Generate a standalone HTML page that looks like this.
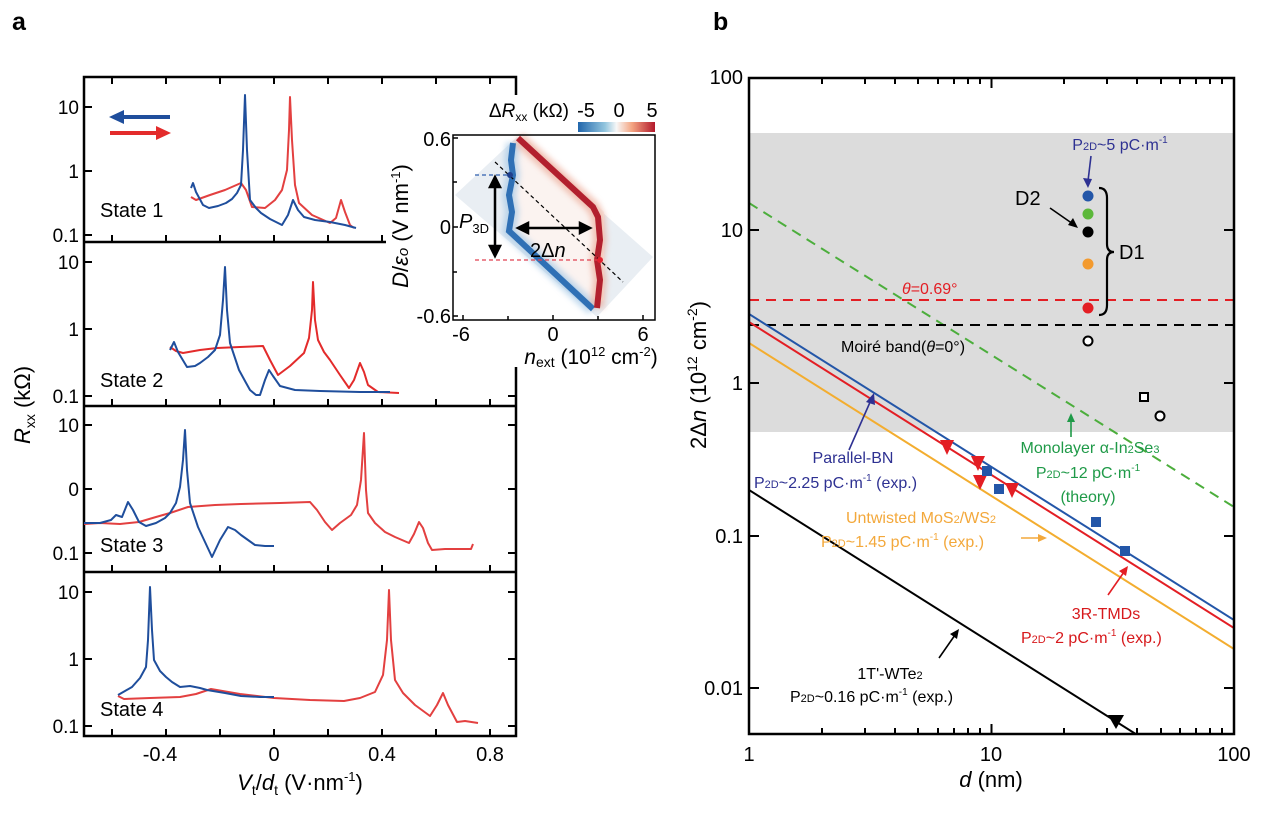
<!DOCTYPE html>
<html><head><meta charset="utf-8"><style>
html,body{margin:0;padding:0;background:#fff;}
svg{display:block;font-family:"Liberation Sans",Arial,sans-serif;}
</style></head><body>
<svg width="1270" height="817" viewBox="0 0 1270 817" xmlns="http://www.w3.org/2000/svg">
<defs>
<linearGradient id="cb" x1="0" x2="1" y1="0" y2="0">
<stop offset="0" stop-color="#2166ac"/><stop offset="0.35" stop-color="#92c5de"/><stop offset="0.5" stop-color="#f7f7f7"/><stop offset="0.7" stop-color="#f4a582"/><stop offset="1" stop-color="#b2182b"/></linearGradient>
<clipPath id="cpb"><rect x="749" y="78" width="485" height="656"/></clipPath>
<filter id="bl" x="-20%" y="-20%" width="140%" height="140%"><feGaussianBlur stdDeviation="3"/></filter>
</defs>

<text x="12" y="30" font-size="25" font-weight="bold">a</text>
<text x="713" y="30" font-size="25" font-weight="bold">b</text>

<!-- ================= PANEL A ================= -->
<g stroke="#000" stroke-width="2.5" fill="none">
<rect x="84" y="77" width="432" height="659"/>
<line x1="84" y1="242" x2="516" y2="242"/>
<line x1="84" y1="406" x2="516" y2="406"/>
<line x1="84" y1="572" x2="516" y2="572"/>
</g>
<g stroke="#000" stroke-width="2">
<path d="M112 77v7M166 77v7M220 77v7M274 77v7M328 77v7M382 77v7M436 77v7M490 77v7"/>
<path d="M112 242v-7M166 242v-7M220 242v-7M274 242v-7M328 242v-7M382 242v-7M436 242v-7M490 242v-7"/>
<path d="M112 406v-7M166 406v-7M220 406v-7M274 406v-7M328 406v-7M382 406v-7M436 406v-7M490 406v-7"/>
<path d="M112 572v-7M166 572v-7M220 572v-7M274 572v-7M328 572v-7M382 572v-7M436 572v-7M490 572v-7"/>
<path d="M112 736v-7M166 736v-7M220 736v-7M274 736v-7M328 736v-7M382 736v-7M436 736v-7M490 736v-7"/>
<path d="M84 107h8M84 171h8M84 235h8M84 262h8M84 329h8M84 396h8M84 425h8M84 489h8M84 553h8M84 592h8M84 659h8M84 726h8"/>
<path d="M516 107h-8M516 171h-8M516 235h-8M516 262h-8M516 329h-8M516 396h-8M516 425h-8M516 489h-8M516 553h-8M516 592h-8M516 659h-8M516 726h-8"/>
</g>
<g font-size="19" text-anchor="end">
<text x="79" y="114">10</text><text x="79" y="178">1</text><text x="79" y="242">0.1</text>
<text x="79" y="269">10</text><text x="79" y="336">1</text><text x="79" y="403">0.1</text>
<text x="79" y="432">10</text><text x="79" y="496">0</text><text x="79" y="560">0.1</text>
<text x="79" y="599">10</text><text x="79" y="666">1</text><text x="79" y="733">0.1</text>
</g>
<g font-size="20" text-anchor="middle">
<text x="160" y="761">-0.4</text><text x="274" y="761">0</text><text x="382" y="761">0.4</text><text x="490" y="761">0.8</text>
</g>
<text x="300" y="790" font-size="22" text-anchor="middle"><tspan font-style="italic">V</tspan><tspan font-size="14" dy="5">t</tspan><tspan dy="-5">/</tspan><tspan font-style="italic">d</tspan><tspan font-size="14" dy="5">t</tspan><tspan dy="-5"> (V·nm</tspan><tspan font-size="13" dy="-9">-1</tspan><tspan dy="9">)</tspan></text>
<text transform="translate(30,405) rotate(-90)" font-size="22" text-anchor="middle"><tspan font-style="italic">R</tspan><tspan font-size="14" dy="5">xx</tspan><tspan dy="-5"> (kΩ)</tspan></text>

<g font-size="20">
<text x="100" y="217">State 1</text>
<text x="100" y="387">State 2</text>
<text x="100" y="552">State 3</text>
<text x="100" y="716">State 4</text>
</g>
<g stroke-width="4">
<line x1="120" y1="117" x2="170" y2="117" stroke="#1f4e9c"/>
<polygon points="109,117 124,110 124,124" fill="#1f4e9c"/>
<line x1="110" y1="133" x2="160" y2="133" stroke="#e32b2b"/>
<polygon points="171,133 156,126 156,140" fill="#e32b2b"/>
</g>

<g fill="none" stroke-width="2" stroke-linejoin="round">
<polyline stroke="#e34040" points="191,197 196,200 210,195 225,190 241,183 246,190 252,207 265,208 275,200 282,190 287,170 289,130 290,97 292,140 295,185 299,203 312,215 330,223 336,218 341,200 345,212 350,225 354,228"/>
<polyline stroke="#1f4e9c" points="191,188 193,183 196,192 203,205 209,208 218,206 226,203 232,199 237,193 241,185 243,150 245,95 247,150 250,200 256,208 261,213 270,219 282,225 288,215 293,200 298,210 304,217 315,220 330,222 345,225 356,228"/>
<polyline stroke="#e32b2b" points="170,347 176,351 183,353 200,350 217,348 240,347 263,346 270,360 278,375 290,366 304,353 309,338 312,310 313,282 315,320 318,340 324,352 330,360 340,375 349,388 354,380 360,363 364,372 368,385 378,392 399,393"/>
<polyline stroke="#1f4e9c" points="170,350 174,342 178,352 187,367 195,366 200,363 208,357 215,350 220,335 223,300 225,267 227,310 230,343 235,358 239,370 245,381 250,390 256,395 260,395 265,380 269,370 273,376 280,386 295,390 320,391 360,392 390,392"/>
<polyline stroke="#e34040" points="84,524 100,523 120,524 139,522 156,517 170,513 188,507 215,505 241,504 280,503 310,502 317,510 325,522 332,530 340,523 351,515 357,505 361,480 364,433 366,490 368,513 375,523 385,532 395,537 409,543 414,534 419,522 423,528 428,543 432,550 445,549 471,549 473,544"/>
<polyline stroke="#1f4e9c" points="84,523 100,523 111,520 116,515 122,517 128,502 133,510 139,522 146,526 156,523 165,518 170,513 176,503 180,487 183,460 185,430 187,470 190,503 198,527 205,542 212,557 220,540 228,527 235,530 241,535 248,540 255,545 265,546 274,546"/>
<polyline stroke="#e34040" points="118,696 124,699 150,698 180,697 196,694 211,689 240,694 274,698 310,700 344,701 360,698 375,692 383,675 387,640 389,590 391,640 395,680 403,693 415,705 430,716 437,705 443,693 448,705 457,722 465,721 478,723"/>
<polyline stroke="#1f4e9c" points="118,695 125,691 132,687 140,678 146,667 148,640 150,587 152,630 154,660 160,671 166,677 172,682 180,687 190,686 200,688 207,690 225,693 241,696 260,697 274,697"/>
</g>

<!-- inset -->
<rect x="386" y="95" width="285" height="272" fill="#fff"/>
<polygon points="455,195 517,137 653,257 597,317" fill="#e9eef3"/>
<polygon points="517,142 530,142 604,212 604,300 596,306 512,228" fill="#fbf3f0"/>
<polyline points="513,143 511,160 513,175 509,195 512,212 509,231 593,309" fill="none" stroke="#9cc3e4" stroke-width="14" opacity="0.6" filter="url(#bl)"/>
<polyline points="518,138 593,207 598,217 600,240 597,260 600,280 597,308" fill="none" stroke="#eaa38e" stroke-width="14" opacity="0.6" filter="url(#bl)"/>
<polyline points="513,143 511,160 513,175 509,195 512,212 509,231 593,309" fill="none" stroke="#2f70b5" stroke-width="6"/>
<polyline points="518,138 593,207 598,217 600,240 597,260 600,280 597,308" fill="none" stroke="#b2202e" stroke-width="6"/>
<line x1="495" y1="162" x2="623" y2="282" stroke="#000" stroke-width="1.2" stroke-dasharray="4,3"/>
<line x1="475" y1="175" x2="510" y2="175" stroke="#2f5fae" stroke-width="1.2" stroke-dasharray="4,3"/>
<line x1="475" y1="260" x2="600" y2="260" stroke="#e04050" stroke-width="1.2" stroke-dasharray="4,3"/>
<circle cx="510" cy="175" r="3" fill="#1f3f8c"/>
<circle cx="600" cy="260" r="3" fill="#e3202e"/>
<rect x="453" y="135" width="202" height="185" fill="none" stroke="#000" stroke-width="1.5"/>
<g stroke="#000" stroke-width="1.5">
<path d="M463 320v-5M508 320v-4M553 320v-5M598 320v-4M643 320v-5"/>
<path d="M453 138h5M453 182h4M453 227h5M453 272h4M453 316h5"/>
</g>
<g stroke="#000" stroke-width="2.5" fill="#000">
<line x1="495" y1="184" x2="495" y2="249"/>
<polygon points="495,177 490,187 500,187"/><polygon points="495,256 490,246 500,246"/>
<line x1="525" y1="228" x2="583" y2="228"/>
<polygon points="518,228 528,223 528,233"/><polygon points="590,228 580,223 580,233"/>
</g>
<text x="459" y="228" font-size="20" font-style="italic">P<tspan font-size="13" font-style="normal" dy="5">3D</tspan></text>
<text x="530" y="257" font-size="20">2Δ<tspan font-style="italic">n</tspan></text>
<g font-size="20" text-anchor="end">
<text x="451" y="146">0.6</text><text x="451" y="234">0</text><text x="451" y="323">-0.6</text>
</g>
<g font-size="20" text-anchor="middle">
<text x="461" y="341">-6</text><text x="553" y="341">0</text><text x="643" y="341">6</text>
</g>
<text x="591" y="364" font-size="21" text-anchor="middle"><tspan font-style="italic">n</tspan><tspan font-size="14" dy="3">ext</tspan><tspan dy="-3"> (10</tspan><tspan font-size="13" dy="-8">12</tspan><tspan dy="8"> cm</tspan><tspan font-size="13" dy="-8">-2</tspan><tspan dy="8">)</tspan></text>
<text transform="translate(408,226) rotate(-90)" font-size="22" text-anchor="middle"><tspan font-style="italic">D</tspan>/<tspan font-style="italic">ε</tspan><tspan font-size="15" font-style="italic">o</tspan> (V nm<tspan font-size="13" dy="-8">-1</tspan><tspan dy="8">)</tspan></text>
<rect x="578" y="122" width="77" height="10" fill="url(#cb)"/>
<g font-size="20" text-anchor="middle"><text x="586" y="117">-5</text><text x="619" y="117">0</text><text x="652" y="117">5</text></g>
<text x="569" y="117" font-size="19" text-anchor="end">Δ<tspan font-style="italic">R</tspan><tspan font-size="12" dy="4">xx</tspan><tspan dy="-4"> (kΩ)</tspan></text>

<!-- ================= PANEL B ================= -->
<rect x="749" y="133" width="485" height="299" fill="#dcdcdc"/>
<g clip-path="url(#cpb)" fill="none" stroke-width="2">
<line x1="749" y1="203" x2="1234" y2="507" stroke="#4cae3c" stroke-dasharray="10,7"/>
<line x1="749" y1="300" x2="1234" y2="300" stroke="#e31e24" stroke-dasharray="10,7"/>
<line x1="749" y1="325" x2="1234" y2="325" stroke="#000" stroke-dasharray="10,7"/>
<line x1="749" y1="314" x2="1234" y2="620" stroke="#2356a8"/>
<line x1="749" y1="322" x2="1234" y2="628" stroke="#e31e24"/>
<line x1="749" y1="343" x2="1234" y2="649" stroke="#f3ad2f"/>
<line x1="749" y1="490" x2="1234" y2="796" stroke="#000"/>
</g>
<polygon points="1108,715 1124,715 1116,729" fill="#000"/>
<g fill="#e31e24">
<polygon points="940,440 954,440 947,455"/>
<polygon points="971,456 985,456 978,471"/>
<polygon points="973,475 987,475 980,490"/>
<polygon points="1005,483 1019,483 1012,498"/>
</g>
<g fill="#2356a8">
<rect x="982" y="466" width="10" height="10"/>
<rect x="994" y="484" width="10" height="10"/>
<rect x="1091" y="517" width="10" height="10"/>
<rect x="1120" y="546" width="10" height="10"/>
</g>
<circle cx="1088" cy="196" r="5.5" fill="#2356a8"/>
<circle cx="1088" cy="214" r="5.5" fill="#5cb83a"/>
<circle cx="1088" cy="232" r="5.5" fill="#000"/>
<circle cx="1088" cy="264" r="5.5" fill="#f39a2e"/>
<circle cx="1088" cy="308" r="5.5" fill="#e31e24"/>
<circle cx="1088" cy="341" r="4.5" fill="#fff" stroke="#000" stroke-width="2"/>
<rect x="1140" y="393" width="8" height="8" fill="#fff" stroke="#000" stroke-width="2"/>
<circle cx="1160" cy="416" r="4.5" fill="#fff" stroke="#000" stroke-width="2"/>
<path d="M1099,188 Q1107,188 1107,198 L1107,244 Q1107,252 1114,252 Q1107,252 1107,260 L1107,305 Q1107,315 1099,315" fill="none" stroke="#000" stroke-width="2.2"/>
<text x="1119" y="259" font-size="20">D1</text>
<text x="1015" y="205" font-size="20">D2</text>
<line x1="1050" y1="208" x2="1073" y2="224" stroke="#000" stroke-width="1.6"/>
<polygon points="1078,228 1068,225 1073,218" fill="#000"/>
<text x="1120" y="150" font-size="16" fill="#2e3192" text-anchor="middle">P<tspan font-size="11">2D</tspan>~5 pC·m<tspan font-size="10" dy="-7">-1</tspan></text>
<line x1="1091" y1="156" x2="1088" y2="181" stroke="#2e3192" stroke-width="1.6"/>
<polygon points="1088,188 1083,178 1092,179" fill="#2e3192"/>
<text x="902" y="294" font-size="16" fill="#e31e24"><tspan font-style="italic">θ</tspan>=0.69°</text>
<text x="841" y="352" font-size="16">Moiré band(<tspan font-style="italic">θ</tspan>=0°)</text>

<line x1="849" y1="450" x2="871" y2="400" stroke="#2e3192" stroke-width="1.6"/>
<polygon points="874,393 866,402 875,405" fill="#2e3192"/>
<text x="853" y="463" font-size="16" fill="#2e3192" text-anchor="middle">Parallel-BN</text>
<text x="754" y="488" font-size="16" fill="#2e3192">P<tspan font-size="11">2D</tspan>~2.25 pC·m<tspan font-size="10" dy="-7">-1</tspan><tspan dy="7"> (exp.)</tspan></text>
<line x1="1071" y1="437" x2="1071" y2="420" stroke="#1f9a48" stroke-width="1.6"/>
<polygon points="1071,413 1067,422 1075,422" fill="#1f9a48"/>
<text x="1090" y="453" font-size="16" fill="#1f9a48" text-anchor="middle">Monolayer α-In<tspan font-size="11">2</tspan>Se<tspan font-size="11">3</tspan></text>
<text x="1088" y="478" font-size="16" fill="#1f9a48" text-anchor="middle">P<tspan font-size="11">2D</tspan>~12 pC·m<tspan font-size="10" dy="-7">-1</tspan></text>
<text x="1088" y="502" font-size="16" fill="#1f9a48" text-anchor="middle">(theory)</text>
<text x="921" y="523" font-size="16" fill="#f3a83b" text-anchor="middle">Untwisted MoS<tspan font-size="11">2</tspan>/WS<tspan font-size="11">2</tspan></text>
<text x="821" y="547" font-size="16" fill="#f3a83b">P<tspan font-size="11">2D</tspan>~1.45 pC·m<tspan font-size="10" dy="-7">-1</tspan><tspan dy="7"> (exp.)</tspan></text>
<line x1="1021" y1="538" x2="1040" y2="538" stroke="#f3a83b" stroke-width="1.6"/>
<polygon points="1047,538 1038,534 1038,542" fill="#f3a83b"/>
<line x1="1108" y1="595" x2="1124" y2="572" stroke="#e31e24" stroke-width="1.6"/>
<polygon points="1128,566 1119,571 1126,576" fill="#e31e24"/>
<text x="1106" y="619" font-size="16" fill="#d7191c" text-anchor="middle">3R-TMDs</text>
<text x="1021" y="643" font-size="16" fill="#d7191c">P<tspan font-size="11">2D</tspan>~2 pC·m<tspan font-size="10" dy="-7">-1</tspan><tspan dy="7"> (exp.)</tspan></text>
<line x1="939" y1="658" x2="955" y2="635" stroke="#000" stroke-width="1.6"/>
<polygon points="959,629 950,634 957,639" fill="#000"/>
<text x="890" y="679" font-size="16" text-anchor="middle">1T'-WTe<tspan font-size="11">2</tspan></text>
<text x="790" y="702" font-size="16">P<tspan font-size="11">2D</tspan>~0.16 pC·m<tspan font-size="10" dy="-7">-1</tspan><tspan dy="7"> (exp.)</tspan></text>

<rect x="749" y="78" width="485" height="656" fill="none" stroke="#000" stroke-width="2.5"/>
<g stroke="#000" stroke-width="2">
<path d="M822 78v6M865 78v6M895 78v6M918 78v6M938 78v6M954 78v6M968 78v6M980 78v6M991.5 78v10M1064 78v6M1107 78v6M1137 78v6M1161 78v6M1180 78v6M1196 78v6M1210 78v6M1222 78v6"/>
<path d="M822 734v-6M865 734v-6M895 734v-6M918 734v-6M938 734v-6M954 734v-6M968 734v-6M980 734v-6M991.5 734v-10M1064 734v-6M1107 734v-6M1137 734v-6M1161 734v-6M1180 734v-6M1196 734v-6M1210 734v-6M1222 734v-6"/>
<path d="M749 230h10M749 383h10M749 536h10M749 688h10M1234 230h-10M1234 383h-10M1234 536h-10M1234 688h-10"/>
</g>
<g font-size="20" text-anchor="end">
<text x="743" y="84">100</text><text x="743" y="237">10</text><text x="743" y="390">1</text><text x="743" y="543">0.1</text><text x="743" y="695">0.01</text>
</g>
<g font-size="20" text-anchor="middle">
<text x="749" y="761">1</text><text x="991" y="761">10</text><text x="1234" y="761">100</text>
</g>
<text x="991" y="787" font-size="22" text-anchor="middle"><tspan font-style="italic">d</tspan> (nm)</text>
<text transform="translate(706,375) rotate(-90)" font-size="22" text-anchor="middle">2Δ<tspan font-style="italic">n</tspan> (10<tspan font-size="14" dy="-9">12</tspan><tspan dy="9"> cm</tspan><tspan font-size="14" dy="-9">-2</tspan><tspan dy="9">)</tspan></text>
</svg>
</body></html>
